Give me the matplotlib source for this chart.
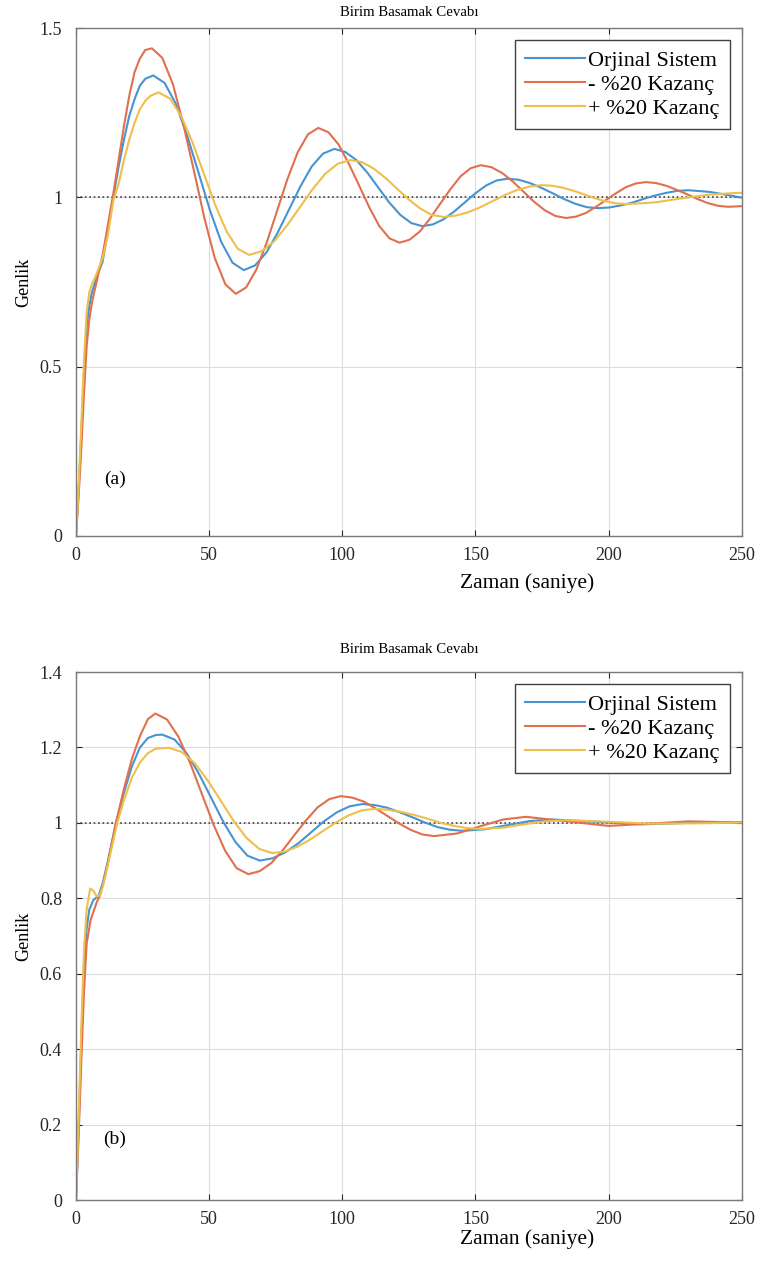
import numpy as np
import matplotlib.pyplot as plt

# ---- (a) ----
ta_orj = [0, 1, 2, 3, 4, 5, 6, 8, 10, 12, 14, 16, 18, 20, 22, 24, 26, 29,
          33.25, 37.5, 41.75, 46, 50.25, 54.5, 58.75, 63,
          67.25, 71.5, 75.75, 80, 84.25, 88.5, 92.75, 97,
          101.1, 105.3, 109.4, 113.5, 117.6, 121.8, 125.9, 130,
          134, 138, 142, 146, 150, 154, 158, 162,
          166.25, 170.5, 174.75, 179, 183.25, 187.5, 191.75, 196,
          200.25, 204.5, 208.75, 213, 217.25, 221.5, 225.75, 230, 238, 246, 250]
ya_orj = [0, 0.14, 0.30, 0.48, 0.62, 0.68, 0.72, 0.77, 0.81, 0.90, 1.0, 1.09, 1.17, 1.24, 1.29, 1.33, 1.35, 1.36,
          1.338, 1.276, 1.182, 1.073, 0.963, 0.869, 0.807, 0.785,
          0.799, 0.837, 0.896, 0.964, 1.032, 1.091, 1.129, 1.143,
          1.134, 1.110, 1.073, 1.029, 0.985, 0.948, 0.924, 0.915,
          0.920, 0.935, 0.958, 0.985, 1.012, 1.035, 1.050, 1.055,
          1.052, 1.042, 1.028, 1.012, 0.995, 0.981, 0.971, 0.968,
          0.970, 0.976, 0.984, 0.995, 1.005, 1.013, 1.019, 1.021, 1.016, 1.005, 0.999]

ta_eksi = [0, 1, 2, 3, 4, 5, 6, 8, 10, 12, 14, 16, 18, 20, 22, 24, 26, 28.5,
           32.4, 36.4, 40.3, 44.3, 48.2, 52.1, 56.1, 60,
           63.9, 67.75, 71.6, 75.5, 79.4, 83.25, 87.1, 91,
           94.8, 98.6, 102.4, 106.25, 110.1, 113.9, 117.7, 121.5,
           125.3, 129.1, 132.9, 136.75, 140.6, 144.4, 148.2, 152,
           156, 160, 164, 168, 172, 176, 180, 184,
           187.75, 191.5, 195.25, 199, 202.75, 206.5, 210.25, 214,
           217.9, 221.75, 225.6, 229.5, 233.4, 237.25, 241.1, 245, 250]
ya_eksi = [0, 0.12, 0.26, 0.42, 0.56, 0.64, 0.69, 0.76, 0.83, 0.92, 1.01, 1.11, 1.21, 1.30, 1.37, 1.41, 1.435, 1.44,
           1.412, 1.334, 1.216, 1.078, 0.939, 0.821, 0.743, 0.715,
           0.734, 0.787, 0.866, 0.960, 1.054, 1.133, 1.186, 1.205,
           1.192, 1.156, 1.100, 1.036, 0.971, 0.915, 0.879, 0.866,
           0.875, 0.899, 0.937, 0.981, 1.024, 1.062, 1.086, 1.095,
           1.089, 1.072, 1.047, 1.017, 0.987, 0.962, 0.945, 0.939,
           0.943, 0.954, 0.972, 0.992, 1.012, 1.030, 1.041, 1.045,
           1.042, 1.034, 1.022, 1.009, 0.995, 0.983, 0.975, 0.972, 0.974]

ta_arti = [0, 1, 2, 3, 4, 5, 6, 7, 8, 10, 12, 14, 16, 18, 20, 22, 24, 26, 28, 31,
           35.25, 39.5, 43.75, 48, 52.25, 56.5, 60.75, 65,
           69.75, 74.5, 79.25, 84, 88.75, 93.5, 98.25, 103,
           107.4, 111.75, 116.1, 120.5, 124.9, 129.25, 133.6, 138,
           142.6, 147.25, 151.9, 156.5, 161.1, 165.75, 170.4, 175,
           179, 183, 187, 191, 195, 199, 203, 207,
           217.25, 227.5, 237.75, 248, 250]
ya_arti = [0, 0.15, 0.33, 0.52, 0.66, 0.72, 0.745, 0.76, 0.78, 0.82, 0.89, 0.99, 1.04, 1.11, 1.17, 1.22, 1.26, 1.285, 1.30, 1.31,
           1.292, 1.240, 1.162, 1.07, 0.978, 0.900, 0.848, 0.83,
           0.841, 0.871, 0.917, 0.97, 1.023, 1.069, 1.099, 1.11,
           1.104, 1.085, 1.058, 1.026, 0.994, 0.967, 0.948, 0.942,
           0.946, 0.956, 0.971, 0.989, 1.007, 1.022, 1.032, 1.036,
           1.034, 1.028, 1.019, 1.008, 0.997, 0.988, 0.982, 0.980,
           0.985, 0.997, 1.008, 1.013, 1.013]

# ---- (b) ----
tb_orj = [0, 1, 2, 3, 4, 5, 6.5, 8.5, 10, 12, 15, 18, 21, 24, 27, 30, 32.4,
          37, 41.5, 46.1, 50.7, 55.3, 59.9, 64.4, 69,
          73.8, 78.65, 83.5, 88.3, 93.1, 97.95, 102.8, 107.6,
          112.3, 116.95, 121.6, 126.3, 131, 135.65, 140.3, 145,
          153.5, 162, 170.5, 179,
          195.5, 212, 230, 250]
yb_orj = [0, 0.2, 0.42, 0.62, 0.72, 0.77, 0.795, 0.807, 0.84, 0.90, 1.0, 1.08, 1.15, 1.20, 1.225, 1.233, 1.234,
          1.221, 1.185, 1.131, 1.067, 1.003, 0.949, 0.913, 0.90,
          0.906, 0.922, 0.946, 0.975, 1.004, 1.028, 1.044, 1.05,
          1.047, 1.04, 1.028, 1.015, 1.001, 0.989, 0.982, 0.979,
          0.983, 0.994, 1.005, 1.009,
          1.003, 0.996, 1.0, 1.002]

tb_eksi = [0, 1, 2, 3, 4, 5.5, 7.8, 9, 11, 13, 15, 18, 21, 24, 27, 29.8,
           34.2, 38.5, 42.9, 47.25, 51.6, 56, 60.3, 64.7,
           69, 73.4, 77.7, 82.05, 86.4, 90.7, 95.1, 99.4,
           103.8, 108.2, 112.6, 117, 121.4, 125.8, 130.2, 134.6,
           143.2, 151.8, 160.4, 169,
           184.5, 200, 215, 230, 250]
yb_eksi = [0, 0.17, 0.37, 0.55, 0.68, 0.743, 0.79, 0.807, 0.86, 0.93, 1.0, 1.09, 1.17, 1.23, 1.275, 1.29,
           1.274, 1.228, 1.158, 1.077, 0.996, 0.926, 0.880, 0.864,
           0.872, 0.894, 0.928, 0.968, 1.007, 1.041, 1.063, 1.071,
           1.067, 1.056, 1.038, 1.018, 0.998, 0.981, 0.969, 0.965,
           0.972, 0.991, 1.009, 1.016,
           1.004, 0.992, 0.998, 1.004, 1.001]

tb_arti = [0, 1, 2, 3, 4, 5.3, 6.5, 7.8, 8.8, 10, 12, 15.5, 18, 21, 24, 27, 30, 34.9,
           39.7, 44.6, 49.4, 54.25, 59.1, 63.9, 68.8, 73.6,
           78.4, 83.2, 88, 92.8, 97.6, 102.4, 107.2, 112,
           117, 122, 127, 132, 137, 142, 147, 152,
           160, 168, 176, 184,
           200, 215, 235, 250]
yb_arti = [0, 0.22, 0.46, 0.66, 0.77, 0.826, 0.82, 0.805, 0.807, 0.83, 0.89, 1.0, 1.06, 1.12, 1.16, 1.185, 1.197, 1.199,
           1.188, 1.158, 1.113, 1.060, 1.006, 0.961, 0.931, 0.92,
           0.924, 0.937, 0.956, 0.979, 1.001, 1.02, 1.033, 1.037,
           1.035, 1.029, 1.021, 1.011, 1.000, 0.992, 0.986, 0.984,
           0.987, 0.996, 1.004, 1.007,
           1.003, 0.998, 0.999, 1.001]

etiketler = ['Orjinal Sistem', '- %20 Kazanç', '+ %20 Kazanç']
renkler = ['#4694d2', '#e0704e', '#eebf4a']

plt.rcParams['font.family'] = ['Liberation Serif', 'DejaVu Serif']

fig = plt.figure(figsize=(7.6, 12.62), dpi=100)
ax1 = fig.add_axes([0.1, 0.5753, 0.876, 0.4025])
ax2 = fig.add_axes([0.1, 0.0491, 0.876, 0.4184])

paneller = [
    (ax1, [(ta_orj, ya_orj), (ta_eksi, ya_eksi), (ta_arti, ya_arti)], 1.5, 0.5, '(a)', 0.168, -0.074, 9),
    (ax2, [(tb_orj, yb_orj), (tb_eksi, yb_eksi), (tb_arti, yb_arti)], 1.4, 0.2, '(b)', 0.16, -0.056, 14),
]

for ax, seriler, ymax, ystep, harf, harf_y, xlab_y, baslik_pad in paneller:
    for (t, y), renk, etiket in zip(seriler, renkler, etiketler):
        ax.plot(t, y, color=renk, lw=1.5, label=etiket)
    ax.axhline(1.0, color='#404040', ls=':', lw=1.2, zorder=1)
    ax.set_xlim(0, 250)
    ax.set_ylim(0, ymax)
    ax.set_xticks(np.arange(0, 251, 50))
    yt = np.round(np.arange(0, ymax + 1e-9, ystep), 2)
    ax.set_yticks(yt)
    ax.set_yticklabels([f'{v:g}' for v in yt])
    ax.grid(color='#dcdcdc', lw=0.8)
    ax.set_axisbelow(True)
    ax.tick_params(direction='in', top=True, right=True, length=4,
                   labelsize=13, colors='#262626')
    ax.tick_params(axis='x', pad=8)
    ax.tick_params(axis='y', pad=10)
    for s in ax.spines.values():
        s.set_color('#7a7a7a')
        s.set_linewidth(1.0)
    ax.set_title('Birim Basamak Cevabı', fontsize=10.7, pad=baslik_pad)
    ax.set_xlabel('Zaman (saniye)', fontsize=15.5)
    ax.xaxis.set_label_coords(0.677, xlab_y)
    ax.set_ylabel('Genlik', fontsize=13, labelpad=5)
    ax.text(14.5, harf_y, harf, fontsize=14, ha='center', va='center')
    leg = ax.legend(loc='upper right', fontsize=16, frameon=True, fancybox=False,
                    framealpha=1, edgecolor='#404040', handlelength=2.7,
                    handletextpad=0.15, labelspacing=0.15, borderaxespad=0.55,
                    borderpad=0.45)
    leg.get_frame().set_linewidth(1.0)

fig.savefig('out.png', dpi=100)
